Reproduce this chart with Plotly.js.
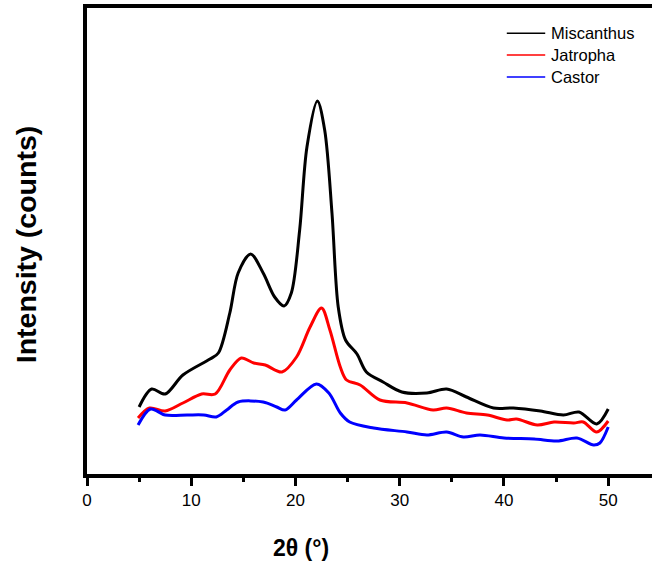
<!DOCTYPE html>
<html>
<head>
<meta charset="utf-8">
<script src="https://cdn.plot.ly/plotly-3.0.1.min.js"></script>
<style>html,body{margin:0;padding:0;background:#fff;}#chart{width:652px;height:568px;}</style>
</head>
<body>
<div id="chart"></div>
<script>
// Miscanthus
const miscX = [5.0, 6.2, 7.5, 9.2, 11.8, 12.6, 13.7, 14.5, 15.7, 16.9, 18.0, 18.9, 19.6, 20.4, 21.1, 22.1, 22.8, 23.5, 24.1, 24.8, 25.9, 26.8, 28.4, 30.2, 32.6, 34.5, 36.4, 39.0, 40.9, 43.5, 45.7, 47.2, 48.9, 50.0];
const miscY = [67, 85, 80, 99, 115, 121, 161, 201, 220, 201, 177, 168, 181, 244, 327, 373, 344, 261, 167, 134, 120, 102, 92, 82, 81, 85, 77, 66, 66, 63, 59, 62, 50, 65];
// Jatropha
const jatX = [4.9, 6.0, 7.5, 9.2, 11.0, 12.3, 13.7, 14.8, 16.0, 17.1, 18.7, 20.1, 21.4, 22.5, 23.3, 24.3, 24.9, 26.2, 28.1, 30.7, 33.2, 34.5, 36.4, 38.4, 40.3, 41.2, 43.2, 44.8, 46.7, 47.6, 48.9, 50.0];
const jatY = [56, 66, 63, 71, 80, 80, 104, 116, 111, 109, 102, 117, 147, 166, 144, 107, 94, 89, 74, 71, 64, 66, 61, 59, 54, 55, 49, 52, 51, 52, 42, 53];
// Castor
const casX = [4.9, 6.1, 7.5, 9.6, 11.2, 12.4, 13.4, 14.5, 16.9, 18.2, 19.0, 20.1, 22.0, 23.2, 24.3, 25.2, 27.5, 30.7, 32.6, 34.5, 36.1, 37.7, 40.0, 42.9, 45.1, 47.0, 48.6, 49.2, 50.0];
const casY = [49, 65, 59, 59, 59, 57, 64, 72, 72, 67, 64, 74, 90, 81, 61, 52, 46, 42, 39, 42, 37, 39, 36, 35, 33, 36, 29, 31, 47];

const names = ['Miscanthus', 'Jatropha', 'Castor'];
const colors = ['#000000', '#ff0000', '#0000ff'];
const xs = [miscX, jatX, casX];
const ys = [miscY, jatY, casY];

const traces = names.map((n, i) => ({
  x: xs[i], y: ys[i], name: n, type: 'scatter', mode: 'lines', showlegend: false,
  line: {color: colors[i], width: 3, shape: 'spline', smoothing: 0.9}
}));

// manual legend (paper coordinates)
const legRowY = [0.946, 0.899, 0.852];
const shapes = names.map((n, i) => ({
  type: 'line', xref: 'paper', yref: 'paper',
  x0: 0.743, x1: 0.811, y0: legRowY[i], y1: legRowY[i],
  line: {color: colors[i], width: 1.5}
}));
const annotations = names.map((n, i) => ({
  text: n, xref: 'paper', yref: 'paper', x: 0.817, y: legRowY[i],
  xanchor: 'left', yanchor: 'middle', showarrow: false,
  font: {size: 16.5, color: '#000'}
}));
annotations.push({
  text: '<b>2θ (°)</b>', xref: 'paper', yref: 'paper', x: 0.379, y: -0.159,
  xanchor: 'center', yanchor: 'middle', showarrow: false, font: {size: 23, color: '#000'}
});
annotations.push({
  text: '<b>Intensity (counts)</b>', xref: 'paper', yref: 'paper', x: -0.108, y: 0.493,
  xanchor: 'center', yanchor: 'middle', showarrow: false, textangle: -90,
  font: {size: 28.5, color: '#000'}
});

const layout = {
  width: 652, height: 568,
  margin: {l: 87, r: 0, t: 8, b: 94},
  paper_bgcolor: '#ffffff', plot_bgcolor: '#ffffff',
  font: {family: 'Liberation Sans, Arial, sans-serif', color: '#000'},
  showlegend: false,
  shapes: shapes,
  annotations: annotations,
  xaxis: {
    range: [0, 54.2], showgrid: false, zeroline: false,
    showline: true, linecolor: '#000', linewidth: 4, mirror: true,
    ticks: 'outside', ticklen: 8, tickwidth: 3, tickcolor: '#000',
    tick0: 0, dtick: 10, tickfont: {size: 17},
    minor: {dtick: 5, ticks: 'outside', ticklen: 4, tickwidth: 3, tickcolor: '#000'}
  },
  yaxis: {
    range: [0, 466], showgrid: false, zeroline: false,
    showline: true, linecolor: '#000', linewidth: 4, mirror: false,
    showticklabels: false, ticks: ''
  }
};

Plotly.newPlot('chart', traces, layout, {displayModeBar: false, staticPlot: true});
</script>
</body>
</html>
